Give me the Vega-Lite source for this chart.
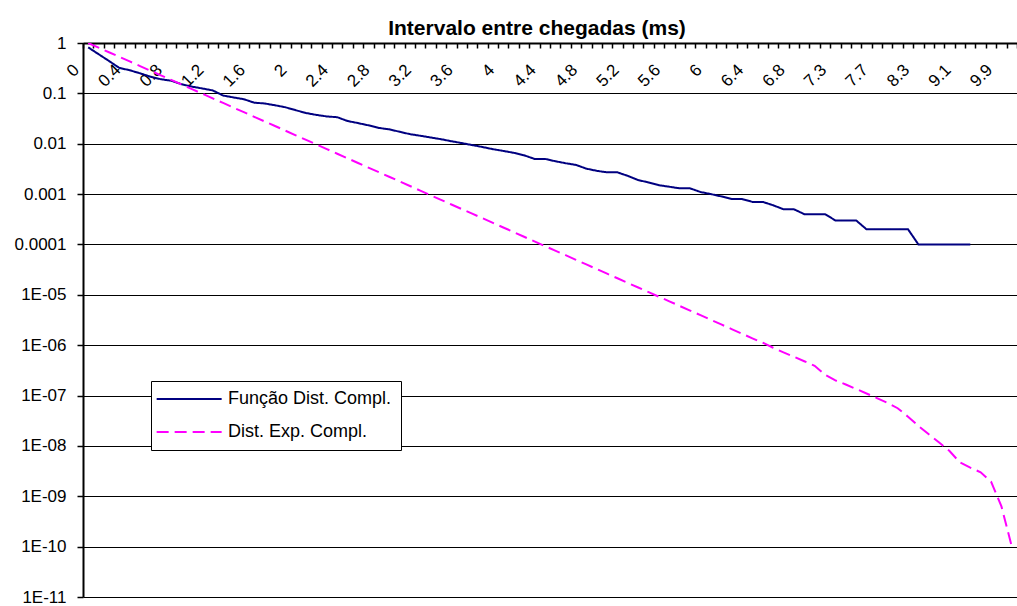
{
  "$schema": "https://vega.github.io/schema/vega-lite/v6.json",
  "width": 934,
  "height": 554,
  "autosize": {"type": "none"},
  "padding": {"left": 83, "top": 43, "right": 0, "bottom": 9},
  "background": "white",
  "config": {"view": {"stroke": null}, "font": "Liberation Sans"},
  "title": {"text": "Intervalo entre chegadas (ms)", "font": "Liberation Sans", "fontSize": 21, "fontWeight": "bold", "color": "black", "anchor": "middle", "dx": -13, "dy": 32, "baseline": "bottom", "offset": 6},
  "data": {"values": [
    {"t": "0", "f": 0.82, "e": 1},
    {"t": "0.1", "f": 0.60, "e": 0.810},
    {"t": "0.2", "f": 0.44, "e": 0.656},
    {"t": "0.3", "f": 0.32, "e": 0.531},
    {"t": "0.4", "f": 0.288, "e": 0.430},
    {"t": "0.5", "f": 0.25, "e": 0.348},
    {"t": "0.6", "f": 0.214, "e": 0.282},
    {"t": "0.7", "f": 0.191, "e": 0.228},
    {"t": "0.8", "f": 0.178, "e": 0.185},
    {"t": "0.9", "f": 0.152, "e": 0.150},
    {"t": "1", "f": 0.136, "e": 0.121},
    {"t": "1.1", "f": 0.125, "e": 0.0983},
    {"t": "1.2", "f": 0.1145, "e": 0.0796},
    {"t": "1.3", "f": 0.0906, "e": 0.0645},
    {"t": "1.4", "f": 0.083, "e": 0.0522},
    {"t": "1.5", "f": 0.0766, "e": 0.0423},
    {"t": "1.6", "f": 0.0653, "e": 0.0342},
    {"t": "1.7", "f": 0.063, "e": 0.0277},
    {"t": "1.8", "f": 0.058, "e": 0.0225},
    {"t": "1.9", "f": 0.053, "e": 0.0182},
    {"t": "2", "f": 0.0463, "e": 0.0147},
    {"t": "2.1", "f": 0.0407, "e": 0.0119},
    {"t": "2.2", "f": 0.0373, "e": 0.00966},
    {"t": "2.3", "f": 0.0348, "e": 0.00782},
    {"t": "2.4", "f": 0.0336, "e": 0.00633},
    {"t": "2.5", "f": 0.0282, "e": 0.00513},
    {"t": "2.6", "f": 0.0257, "e": 0.00415},
    {"t": "2.7", "f": 0.0232, "e": 0.00336},
    {"t": "2.8", "f": 0.0206, "e": 0.00272},
    {"t": "2.9", "f": 0.0193, "e": 0.00221},
    {"t": "3", "f": 0.0173, "e": 0.00179},
    {"t": "3.1", "f": 0.0155, "e": 0.00145},
    {"t": "3.2", "f": 0.0144, "e": 0.00117},
    {"t": "3.3", "f": 0.0133, "e": 0.000949},
    {"t": "3.4", "f": 0.0123, "e": 0.000769},
    {"t": "3.5", "f": 0.0112, "e": 0.000622},
    {"t": "3.6", "f": 0.0103, "e": 0.000504},
    {"t": "3.7", "f": 0.0094, "e": 0.000408},
    {"t": "3.8", "f": 0.0086, "e": 0.000331},
    {"t": "3.9", "f": 0.0078, "e": 0.000268},
    {"t": "4", "f": 0.0072, "e": 0.000217},
    {"t": "4.1", "f": 0.0066, "e": 0.000176},
    {"t": "4.2", "f": 0.0059, "e": 0.000142},
    {"t": "4.3", "f": 0.0050, "e": 0.000115},
    {"t": "4.4", "f": 0.0050, "e": 9.32e-5},
    {"t": "4.5", "f": 0.0045, "e": 7.55e-5},
    {"t": "4.6", "f": 0.0041, "e": 6.12e-5},
    {"t": "4.7", "f": 0.0038, "e": 4.95e-5},
    {"t": "4.8", "f": 0.0032, "e": 4.01e-5},
    {"t": "4.9", "f": 0.0029, "e": 3.25e-5},
    {"t": "5", "f": 0.0027, "e": 2.63e-5},
    {"t": "5.1", "f": 0.0027, "e": 2.13e-5},
    {"t": "5.2", "f": 0.0023, "e": 1.72e-5},
    {"t": "5.3", "f": 0.0019, "e": 1.40e-5},
    {"t": "5.4", "f": 0.0017, "e": 1.13e-5},
    {"t": "5.5", "f": 0.0015, "e": 9.16e-6},
    {"t": "5.6", "f": 0.0014, "e": 7.42e-6},
    {"t": "5.7", "f": 0.0013, "e": 6.01e-6},
    {"t": "5.8", "f": 0.0013, "e": 4.87e-6},
    {"t": "5.9", "f": 0.0011, "e": 3.94e-6},
    {"t": "6", "f": 0.0010, "e": 3.19e-6},
    {"t": "6.1", "f": 0.0009, "e": 2.58e-6},
    {"t": "6.2", "f": 0.0008, "e": 2.09e-6},
    {"t": "6.3", "f": 0.0008, "e": 1.69e-6},
    {"t": "6.4", "f": 0.0007, "e": 1.37e-6},
    {"t": "6.5", "f": 0.0007, "e": 1.12e-6},
    {"t": "6.6", "f": 0.0006, "e": 8.9e-7},
    {"t": "6.7", "f": 0.0005, "e": 7.2e-7},
    {"t": "6.8", "f": 0.0005, "e": 5.9e-7},
    {"t": "6.9", "f": 0.0004, "e": 4.8e-7},
    {"t": "7", "f": 0.0004, "e": 3.9e-7},
    {"t": "7.2", "f": 0.0004, "e": 2.6e-7},
    {"t": "7.3", "f": 0.0003, "e": 2.0e-7},
    {"t": "7.4", "f": 0.0003, "e": 1.66e-7},
    {"t": "7.5", "f": 0.0003, "e": 1.35e-7},
    {"t": "7.6", "f": 0.0002, "e": 1.10e-7},
    {"t": "7.7", "f": 0.0002, "e": 8.9e-8},
    {"t": "7.8", "f": 0.0002, "e": 7.2e-8},
    {"t": "8", "f": 0.0002, "e": 5.6e-8},
    {"t": "8.1", "f": 0.0002, "e": 3.8e-8},
    {"t": "8.3", "f": 0.0001, "e": 2.5e-8},
    {"t": "8.5", "f": 0.0001, "e": 1.7e-8},
    {"t": "8.7", "f": 0.0001, "e": 1.17e-8},
    {"t": "8.9", "f": 0.0001, "e": 7.9e-9},
    {"t": "9.1", "f": 0.0001, "e": 4.7e-9},
    {"t": "9.3", "f": 0.0001, "e": 3.7e-9},
    {"t": "9.5", "f": null, "e": 3.0e-9},
    {"t": "9.7", "f": null, "e": 1.95e-9},
    {"t": "9.9", "f": null, "e": 6.3e-10},
    {"t": "10.9", "f": null, "e": 1.0e-10}
  ]},
  "transform": [{"fold": ["f", "e"], "as": ["serie", "p"]}],
  "mark": {"type": "line", "strokeWidth": 2, "clip": true},
  "encoding": {
    "x": {
      "field": "t", "type": "ordinal", "sort": null, "bandPosition": 0.5,
      "scale": {"type": "band", "paddingInner": 0, "paddingOuter": 0},
      "axis": {
        "orient": "top", "title": null, "grid": false,
        "domainColor": "black", "domainWidth": 2,
        "tickColor": "black", "tickSize": -5, "tickWidth": 1.5, "tickBand": "extent",
        "labelAngle": -45, "labelAlign": "right", "labelBaseline": "middle",
        "labelPadding": -19, "labelOffset": -12,
        "labelFont": "Liberation Sans", "labelFontSize": 17, "labelColor": "black",
        "labelOverlap": false, "labelBound": false, "labelFlush": false,
        "labelExpr": "indexof(['0','0.4','0.8','1.2','1.6','2','2.4','2.8','3.2','3.6','4','4.4','4.8','5.2','5.6','6','6.4','6.8','7.3','7.7','8.3','9.1','9.9'], datum.label) >= 0 ? datum.label : ''"
      }
    },
    "y": {
      "field": "p", "type": "quantitative",
      "scale": {"type": "log", "domain": [1e-11, 1], "nice": false},
      "axis": {
        "title": null, "values": [1, 0.1, 0.01, 0.001, 0.0001, 1e-5, 1e-6, 1e-7, 1e-8, 1e-9, 1e-10, 1e-11],
        "labelExpr": "['1','0.1','0.01','0.001','0.0001','1E-05','1E-06','1E-07','1E-08','1E-09','1E-10','1E-11'][round(-log(datum.value)/LN10)]",
        "grid": true, "gridColor": "black", "gridWidth": 1, "gridOpacity": 1,
        "domainColor": "black", "domainWidth": 2,
        "tickColor": "black", "tickSize": 6, "tickWidth": 1.5,
        "labelPadding": 11, "labelFont": "Liberation Sans", "labelFontSize": 17, "labelColor": "black",
        "labelOverlap": false, "labelFlush": false, "labelBound": false
      }
    },
    "color": {
      "field": "serie", "type": "nominal",
      "scale": {"domain": ["f", "e"], "range": ["#000080", "#FF00FF"]},
      "legend": {
        "orient": "none", "legendX": 68, "legendY": 338, "title": null,
        "labelExpr": "datum.label == 'f' ? 'Função Dist. Compl.' : 'Dist. Exp. Compl.'",
        "symbolType": "M-1.9,0H8.1", "symbolSize": 169, "symbolStrokeWidth": 2,
        "labelFont": "Liberation Sans", "labelFontSize": 18, "labelColor": "black", "labelOffset": 50, "labelLimit": 400,
        "fillColor": "white", "strokeColor": "black", "padding": 9, "rowPadding": 15
      }
    },
    "strokeDash": {
      "field": "serie", "type": "nominal",
      "scale": {"domain": ["f", "e"], "range": [[1, 0], [12, 6]]},
      "legend": {
        "orient": "none", "legendX": 68, "legendY": 338, "title": null,
        "labelExpr": "datum.label == 'f' ? 'Função Dist. Compl.' : 'Dist. Exp. Compl.'",
        "symbolType": "M-1.9,0H8.1", "symbolSize": 169, "symbolStrokeWidth": 2,
        "labelFont": "Liberation Sans", "labelFontSize": 18, "labelColor": "black", "labelOffset": 50, "labelLimit": 400,
        "fillColor": "white", "strokeColor": "black", "padding": 9, "rowPadding": 15
      }
    }
  }
}
